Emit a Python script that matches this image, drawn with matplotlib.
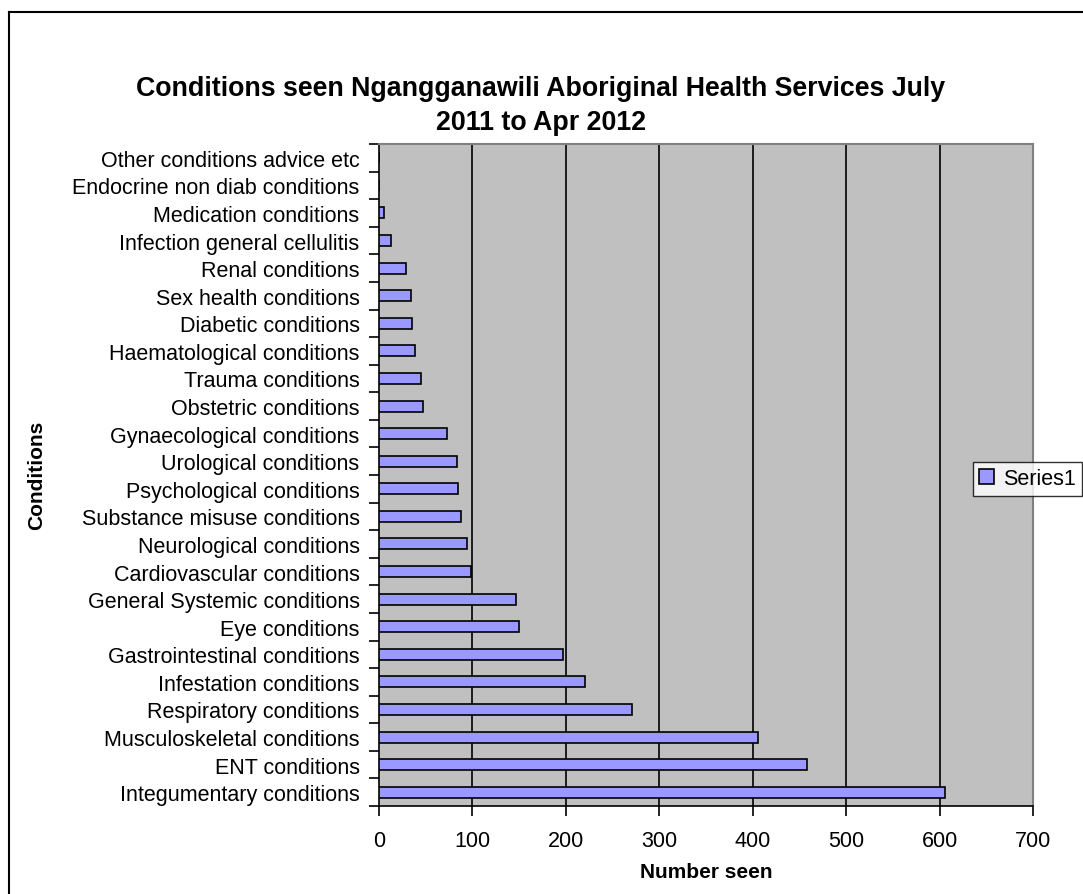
import matplotlib
matplotlib.use("Agg")
import matplotlib.pyplot as plt
from matplotlib.lines import Line2D
import numpy as np

plt.rcParams['font.family'] = ['Liberation Sans', 'DejaVu Sans']

# Categories from bottom to top, as drawn
conditions = [
    "Integumentary conditions", "ENT conditions", "Musculoskeletal conditions",
    "Respiratory conditions", "Infestation conditions", "Gastrointestinal conditions",
    "Eye conditions", "General Systemic conditions", "Cardiovascular conditions",
    "Neurological conditions", "Substance misuse conditions", "Psychological conditions",
    "Urological conditions", "Gynaecological conditions", "Obstetric conditions",
    "Trauma conditions", "Haematological conditions", "Diabetic conditions",
    "Sex health conditions", "Renal conditions", "Infection general cellulitis",
    "Medication conditions", "Endocrine non diab conditions", "Other conditions advice etc",
]
number_seen = [606, 458, 406, 271, 221, 197, 150, 147, 98, 94, 88, 85,
               83, 73, 47, 45, 39, 35, 34, 29, 13, 5, 0, 0]
x_ticks = [0, 100, 200, 300, 400, 500, 600, 700]

W, H = 1083, 895
fig = plt.figure(figsize=(W / 100, H / 100), dpi=100)
ax = fig.add_axes([379 / W, 1 - 807 / H, (1033 - 379) / W, (807 - 145) / H])

ax.set_facecolor('#C0C0C0')
y = np.arange(len(conditions))
ax.barh(y, number_seen, height=0.4, color='#9999FF', edgecolor='black',
        linewidth=1.2, label='Series1', zorder=3)

ax.set_xlim(0, 700)
ax.set_ylim(-0.5, len(conditions) - 0.5)
ax.set_xticks(x_ticks)
ax.set_xticklabels([str(t) for t in x_ticks], fontsize=15.5)
for t in x_ticks[1:-1]:
    ax.axvline(t, color='black', lw=1.2, zorder=1)

# category labels centred, tick marks between categories (Excel style)
ax.set_yticks(y)
ax.set_yticklabels(conditions, fontsize=15.5)
ax.tick_params(axis='y', length=0, pad=14)
ax.set_yticks(np.arange(-0.5, len(conditions)), minor=True)
ax.tick_params(axis='y', which='minor', length=7, width=1.2, direction='out')
ax.tick_params(axis='x', length=7, width=1.2, direction='out', pad=10)

for side in ['top', 'right']:
    ax.spines[side].set_color('#808080')
    ax.spines[side].set_linewidth(1.5)
for side in ['left', 'bottom']:
    ax.spines[side].set_color('black')
    ax.spines[side].set_linewidth(1.2)

ax.set_xlabel('Number seen', fontsize=15, fontweight='bold', labelpad=8)
fig.text(37 / W, 1 - 475 / H, 'Conditions', rotation=90, fontsize=15,
         fontweight='bold', ha='center', va='center')

fig.text(541 / W, 1 - 106 / H,
         'Conditions seen Ngangganawili Aboriginal Health Services July\n2011 to Apr 2012',
         fontsize=19.3, fontweight='bold', ha='center', va='center', linespacing=1.4)

leg = fig.legend(loc='upper right', bbox_to_anchor=(1082 / W, 1 - 463 / H),
                 fontsize=15.5, frameon=True, fancybox=False, handlelength=0.7,
                 handleheight=0.7, handletextpad=0.4, borderpad=0.3,
                 borderaxespad=0)
leg.get_frame().set_edgecolor('black')
leg.get_frame().set_linewidth(1.0)

# outer chart border (only left and top edges fall inside the picture)
fig.add_artist(Line2D([9 / W, 9 / W], [0, 1 - 13 / H], color='black', lw=1.5))
fig.add_artist(Line2D([9 / W, 1], [1 - 13 / H, 1 - 13 / H], color='black', lw=1.5))

fig.savefig('out.png', dpi=100)
